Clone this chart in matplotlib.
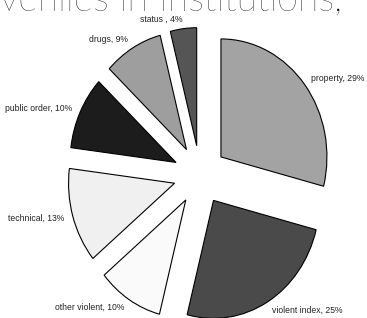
import matplotlib.pyplot as plt

# offense categories and shares (%)
categories = ['property', 'violent index', 'other violent', 'technical',
              'public order', 'drugs', 'status ']
shares = [29, 25, 10, 13, 10, 9, 4]
colors = ['#a3a3a3', '#4a4a4a', '#fafafa', '#f0f0f0', '#1c1c1c', '#9e9e9e', '#555555']

labels = [f'{c}, {v}%' for c, v in zip(categories, shares)]

fig = plt.figure(figsize=(3.67, 3.18), dpi=100)
ax = fig.add_axes([0, 0, 1, 1])

wedges, texts = ax.pie(shares, labels=labels, colors=colors, startangle=90,
                       counterclock=False, explode=[0.25] * len(shares),
                       labeldistance=1.08,
                       wedgeprops=dict(edgecolor='black', linewidth=0.8),
                       textprops=dict(fontsize=6.2, family='Liberation Sans',
                                      color='#222222'))

# the original pie is slightly stretched vertically:
# center at (200,175) px, x radius 106 px, y radius 118 px
ax.set_aspect('auto')
ax.set_xlim(-200 / 106, 167 / 106)
ax.set_ylim(-(318 - 175) / 118, 175 / 118)
ax.axis('off')

fig.text(0.0, 1 - 11 / 318, 'veniles in Institutions,', ha='left',
         va='baseline', fontsize=27, family='Lato', fontweight='light')

fig.savefig('out.png', dpi=100)
